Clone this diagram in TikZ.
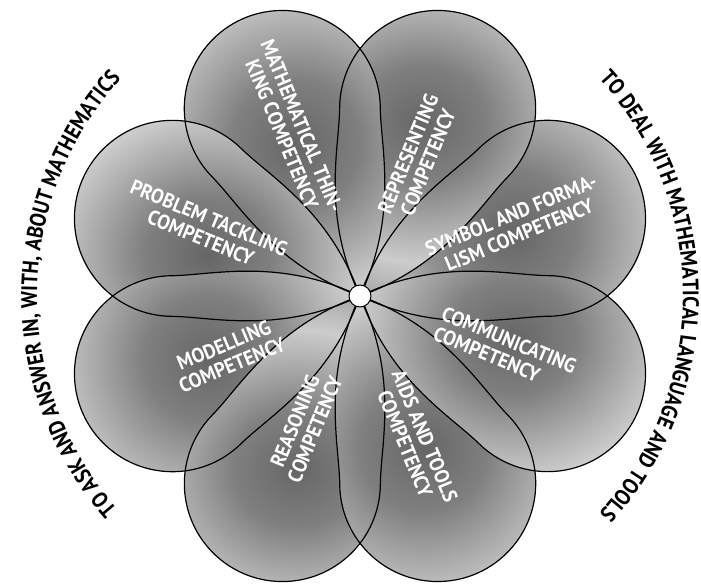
\documentclass[tikz,border=0pt]{standalone}
\usepackage{fontspec}
\newfontfamily\labfont{PT Sans}[FakeStretch=0.93]
\newfontfamily\outfont{PT Sans}[FakeStretch=0.88]
\usetikzlibrary{decorations.text}
\definecolor{petdark}{gray}{0.40}
\definecolor{petmid}{gray}{0.50}
\definecolor{petlight}{gray}{0.80}
\definecolor{petneck}{gray}{0.68}
\pgfdeclareradialshading{petalshade}{\pgfpoint{0bp}{0bp}}{color(0bp)=(petdark); color(7bp)=(petmid); color(17bp)=(petlight); color(21bp)=(petneck); color(25bp)=(petneck); color(50bp)=(petneck)}
\newcommand\petalpath{(0,0) .. controls (48:90) and (129.2,75.9) .. (166.3,90.9) arc[start angle=112, end angle=-112, radius=98] .. controls (129.2,-75.9) and (-48:90) .. (0,0) -- cycle}
\tikzset{
  petline/.style={draw=black, line width=1.2pt},
  lab/.style={text=white, font=\labfont\bfseries\fontsize{20.5}{21.5}\selectfont, align=center, inner sep=0pt},
  outertext/.style={decorate, decoration={text along path, text align=center, text={|\outfont\bfseries\fontsize{22.5}{26}\selectfont|#1}}}
}
\begin{document}
\begin{tikzpicture}[x=1pt,y=1pt]
\useasboundingbox (0,0) rectangle (701,586);
\fill[white] (0,0) rectangle (701,586);
% petal fills
\foreach \a in {22.5,67.5,112.5,157.5,202.5,247.5,292.5,337.5}{
  \begin{scope}[shift={(360,290)}, rotate=\a]
    \begin{scope}
      \clip \petalpath;
      \shade[shading=petalshade] (165,0) circle (200);
    \end{scope}
  \end{scope}
}
% petal outlines
\foreach \a in {22.5,67.5,112.5,157.5,202.5,247.5,292.5,337.5}{
  \begin{scope}[shift={(360,290)}, rotate=\a]
    \draw[petline] \petalpath;
  \end{scope}
}
\node[circle, fill=white, draw=black, line width=1pt, minimum size=22pt, inner sep=0pt] (ctr) at (360,290) {};
% labels
\node[lab, rotate=-67.5] (mt) at (292,456) {MATHEMATICAL THIN-\\KING COMPETENCY};
\node[lab, rotate=67.5] (rp) at (418,428) {REPRESENTING\\COMPETENCY};
\node[lab, rotate=22.5] (sf) at (515,361) {SYMBOL AND FORMA-\\LISM COMPETENCY};
\node[lab, rotate=-22.5, align=left] (cm) at (505,236) {COMMUNICATING\\COMPETENCY};
\node[lab, rotate=-67.5] (at) at (415,146) {AIDS AND TOOLS\\COMPETENCY};
\node[lab, rotate=67.5] (rs) at (305,161) {REASONING\\COMPETENCY};
\node[lab, rotate=22.5] (md) at (228,231) {MODELLING\\COMPETENCY};
\node[lab, rotate=-22.5] (pt) at (205,358) {PROBLEM TACKLING\\COMPETENCY};
% outer arc texts
\begin{scope}[shift={(360,290)}]
  \path[outertext={TO ASK AND ANSWER IN, WITH, ABOUT MATHEMATICS}] (229.5:323) arc[start angle=229.5, end angle=129.5, radius=323];
  \path[outertext={TO DEAL WITH MATHEMATICAL LANGUAGE AND TOOLS}] (50:323) arc[start angle=50, end angle=-50, radius=323];
\end{scope}
\end{tikzpicture}
\end{document}
